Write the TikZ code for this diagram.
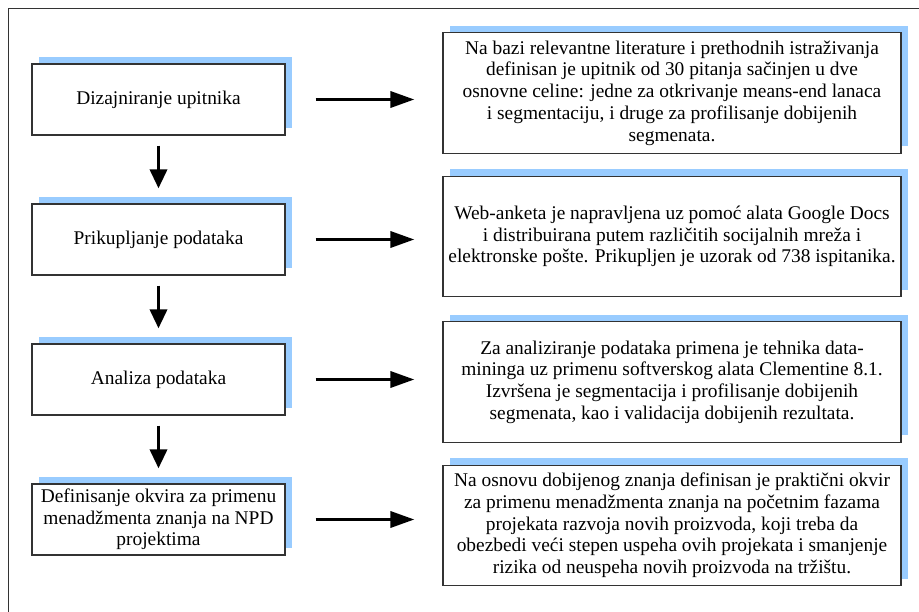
\documentclass[tikz,border=0pt]{standalone}
\usepackage{fontspec}
\setmainfont{Liberation Serif}
\usetikzlibrary{arrows.meta,shadows}
\definecolor{shadowblue}{HTML}{99CCFF}
\definecolor{framegray}{HTML}{333333}
\begin{document}
\begin{tikzpicture}[x=1pt,y=-1pt,
  every node/.style={font=\fontsize{19.4}{21.7}\selectfont, align=center, inner sep=1pt},
  stepbox/.style={draw=framegray, line width=1.2pt, fill=white,
    general shadow={fill=shadowblue, shadow xshift=7pt, shadow yshift=7pt}},
  leftbox/.style={stepbox, minimum width=253pt, minimum height=71pt},
  rightbox/.style={stepbox, minimum width=458pt, minimum height=120.5pt},
  flow/.style={line width=3.5pt, -{Triangle[length=19pt,width=17pt]}},
  side/.style={line width=3.5pt, -{Triangle[length=24pt,width=16pt]}}
]
\useasboundingbox (0,0) rectangle (919,612);
% outer frame
\draw[framegray, line width=1pt] (919,9) -- (8,9) -- (8,612);

% steps of the procedure
\node[leftbox] (L1) at (158.5,99.5) {Dizajniranje upitnika};
\node[leftbox] (L2) at (158.5,239.5) {Prikupljanje podataka};
\node[leftbox] (L3) at (158.5,379.5) {Analiza podataka};
\node[leftbox] (L4) at (158.5,519.5) {Definisanje okvira za primenu\\menadžmenta znanja na NPD\\projektima};

% descriptions of the steps
\node[rightbox] (R1) at (672,93) {Na bazi relevantne literature i prethodnih istraživanja\\definisan je upitnik od 30 pitanja sačinjen u dve\\osnovne celine: jedne za otkrivanje means-end lanaca\\i segmentaciju, i druge za profilisanje dobijenih\\segmenata.};
\node[rightbox] (R2) at (672,236.5) {Web-anketa je napravljena uz pomoć alata Google Docs\\i distribuirana putem različitih socijalnih mreža i\\elektronske pošte. Prikupljen je uzorak od 738 ispitanika.};
\node[rightbox] (R3) at (672,382) {Za analiziranje podataka primena je tehnika data-\\mininga uz primenu softverskog alata Clementine 8.1.\\Izvršena je segmentacija i profilisanje dobijenih\\segmenata, kao i validacija dobijenih rezultata.};
\node[rightbox] (R4) at (672,525.5) {Na osnovu dobijenog znanja definisan je praktični okvir\\za primenu menadžmenta znanja na početnim fazama\\projekata razvoja novih proizvoda, koji treba da\\obezbedi veći stepen uspeha ovih projekata i smanjenje\\rizika od neuspeha novih proizvoda na tržištu.};

% flow between the steps
\foreach \a/\b in {L1/L2, L2/L3, L3/L4}
  \draw[flow, shorten <=10pt, shorten >=15pt] (\a.south) -- (\b.north);

% links from each step to its description
\foreach \a/\b in {L1/R1, L2/R2, L3/R3, L4/R4}
  \draw[side, shorten <=30pt, shorten >=28pt] (\a.east) -- (\a.east -| \b.west);
\end{tikzpicture}
\end{document}
